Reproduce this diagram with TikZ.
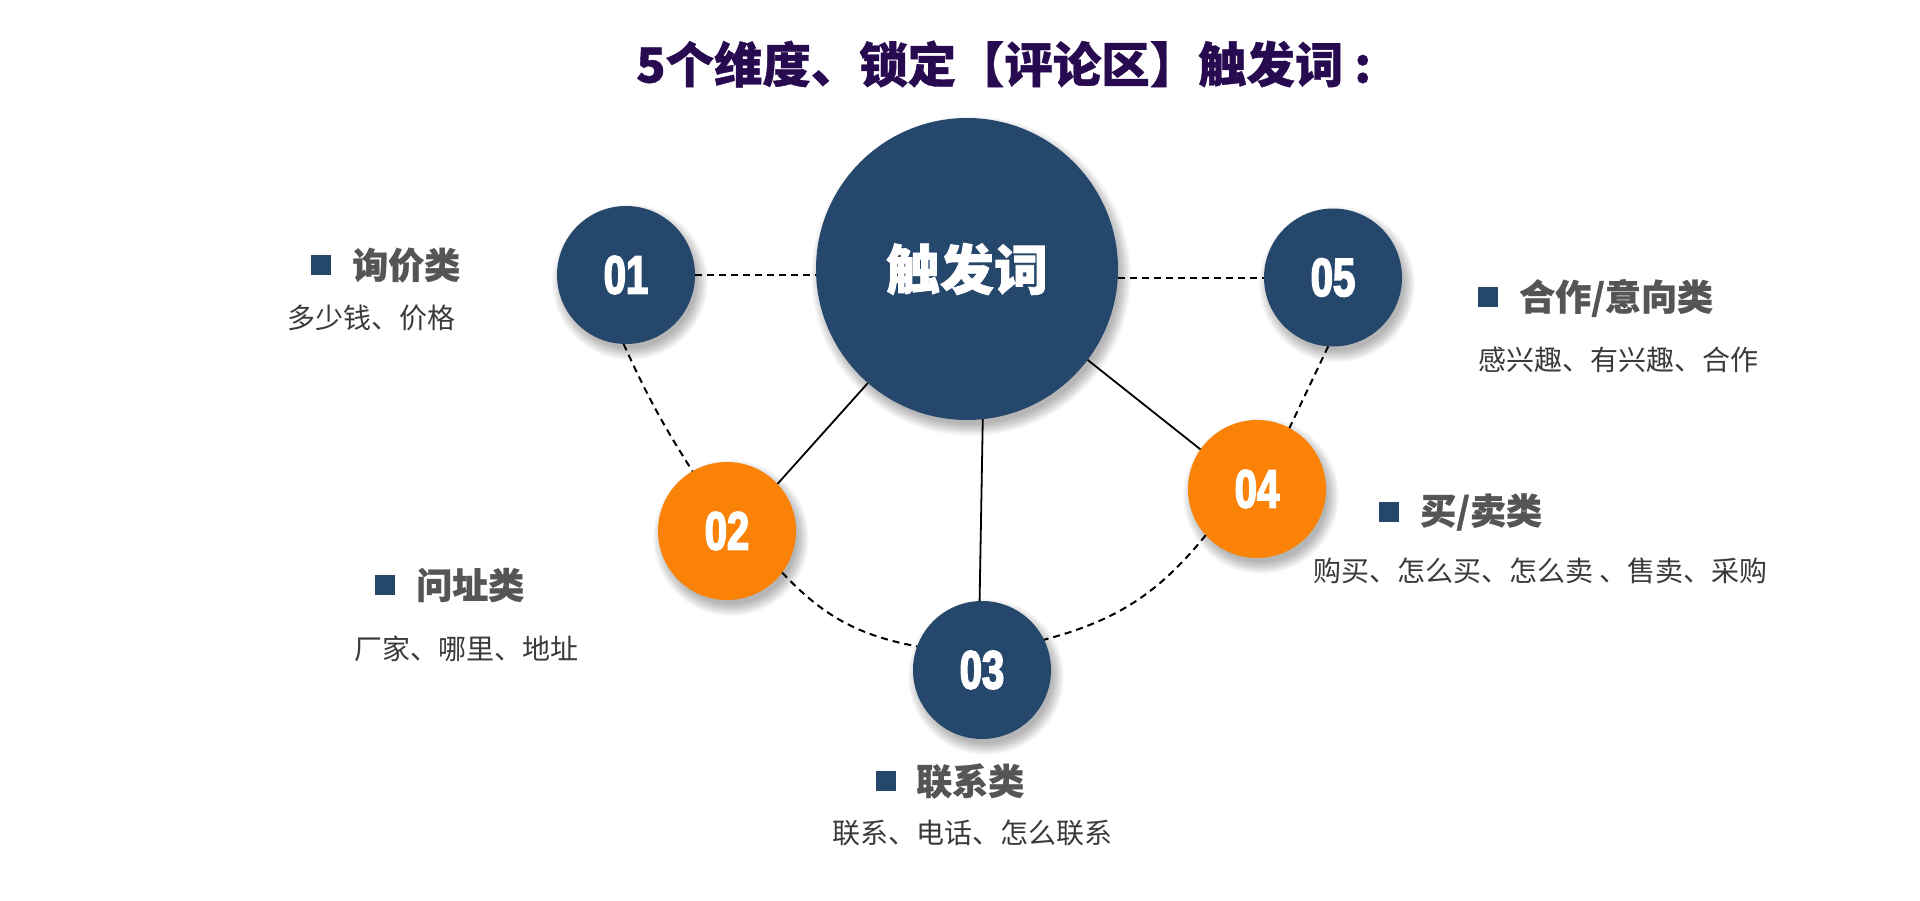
\documentclass[tikz,border=0pt]{standalone}
\usepackage{fontspec}
\newfontfamily\cjk{Noto Sans CJK SC}
\newfontfamily\cjkheavy{Noto Sans CJK SC}[BoldFeatures={FakeBold=1.5}]
\newfontfamily\cjkmed{Noto Sans CJK SC}[BoldFeatures={FakeBold=0.8}]
\newfontfamily\numfont{Liberation Sans}[BoldFeatures={FakeStretch=0.74,FakeBold=3}]
\definecolor{navy}{HTML}{26476C}
\definecolor{orng}{HTML}{FA8207}
\definecolor{titlec}{HTML}{280A50}
\definecolor{headc}{HTML}{555555}
\definecolor{descc}{HTML}{3A3A3A}
\newcommand\circshadow[3]{%
  \foreach \k in {0,...,12}{\fill[black,opacity=0.024] (#1+4,#2+7) circle[radius=#3-3+\k];}}
\tikzset{
  bubble/.style={circle,inner sep=0pt,outer sep=0pt,minimum size=138pt,text=white,
    font=\numfont\bfseries\fontsize{54}{54}\selectfont},
  navyb/.style={bubble,fill=navy},
  orngb/.style={bubble,fill=orng},
  dashc/.style={black,line width=2pt,dash pattern=on 7pt off 5pt},
  solidc/.style={black,line width=1.8pt},
  headt/.style={anchor=west,inner sep=0pt,text=headc,font=\cjkmed\bfseries\fontsize{36}{36}\selectfont},
  desct/.style={anchor=west,inner sep=0pt,text=descc,font=\cjk\fontsize{28}{28}\selectfont},
  sq/.style={fill=navy,inner sep=0pt,minimum size=20pt}
}
\begin{document}
\begin{tikzpicture}[x=1pt,y=-1pt]
\useasboundingbox[fill=white] (0,0) rectangle (1920,900);
% title
\node[anchor=west,inner sep=0pt,text=titlec,font=\cjkmed\bfseries\fontsize{48.4}{48.4}\selectfont] (title) at (636,64) {5个维度、锁定【评论区】触发词\hspace{11pt}:};
% shadows
\circshadow{967}{269}{151}
\circshadow{626}{275}{69}
\circshadow{727}{531}{69}
\circshadow{982}{670}{69}
\circshadow{1257}{489}{69}
\circshadow{1333}{277.5}{69}
% circles
\node[circle,inner sep=0pt,outer sep=0pt,minimum size=302pt,fill=navy,text=white,
  font=\cjkheavy\bfseries\fontsize{54}{54}\selectfont] (c) at (967,269) {触发词};
\node[navyb] (n1) at (626,275) {01};
\node[orngb] (n2) at (727,531) {02};
\node[navyb] (n3) at (982,670) {03};
\node[orngb] (n4) at (1257,489) {04};
\node[navyb] (n5) at (1333,277.5) {05};
% connectors
\draw[dashc] (n1.east) -- (n1.east -| c.west);
\draw[dashc] (n5.west -| c.east) -- (n5.west);
\draw[dashc] (n1.-92) to[bend right=4] (n2.120.5);
\draw[dashc] (n2.-37) to[bend right=18] (n3.160.5);
\draw[dashc] (n4.222.7) to[bend left=18] (n3.26);
\draw[dashc] (n5.-94) -- (n4.62.7);
\draw[solidc] (c.229.6) -- (n2.43.8);
\draw[solidc] (c.-84) -- (n3.92);
\draw[solidc] (c.-37.8) -- (n4.145.4);
% labels
\node[sq] (s1) at (321,265) {};
\node[headt] (h1) at (352,265) {询价类};
\node[desct] (d1) at (287,317.5) {多少钱、价格};
\node[sq] (s2) at (385,585) {};
\node[headt] (h2) at (416,585) {问址类};
\node[desct] (d2) at (354,648.5) {厂家、哪里、地址};
\node[sq] (s3) at (886,781) {};
\node[headt] (h3) at (916,781) {联系类};
\node[desct] (d3) at (832,833) {联系、电话、怎么联系};
\node[sq] (s4) at (1389,512) {};
\node[headt] (h4) at (1420,512) {买/卖类};
\node[desct] (d4) at (1313,571) {购买、怎么买、怎么卖 、售卖、采购};
\node[sq] (s5) at (1487.5,297) {};
\node[headt] (h5) at (1519,298) {合作/意向类};
\node[desct] (d5) at (1478,360) {感兴趣、有兴趣、合作};
\end{tikzpicture}
\end{document}
